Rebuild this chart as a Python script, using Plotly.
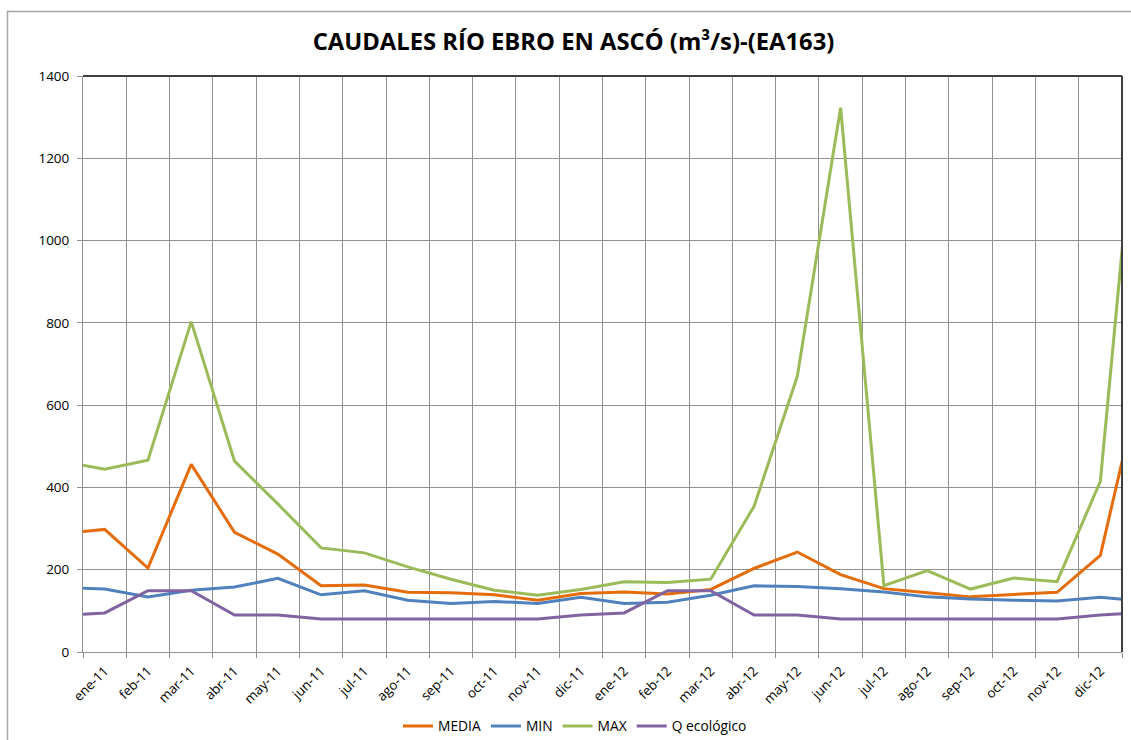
import plotly.graph_objects as go

months = ["dic-10",
          "ene-11", "feb-11", "mar-11", "abr-11", "may-11", "jun-11",
          "jul-11", "ago-11", "sep-11", "oct-11", "nov-11", "dic-11",
          "ene-12", "feb-12", "mar-12", "abr-12", "may-12", "jun-12",
          "jul-12", "ago-12", "sep-12", "oct-12", "nov-12", "dic-12",
          "ene-13"]

media = [288,
         298, 204, 456, 291, 238, 161, 163, 145, 144, 139, 126, 142,
         146, 141, 152, 203, 243, 188, 154, 144, 134, 140, 145, 235,
         689]
minimo = [157,
          153, 134, 150, 158, 179, 139, 149, 126, 118, 123, 118, 133,
          118, 121, 138, 161, 159, 154, 146, 134, 129, 126, 124, 133,
          123]
maximo = [464,
          444, 466, 803, 464, 360, 253, 241, 207, 177, 150, 138, 152,
          171, 169, 177, 354, 670, 1323, 161, 198, 153, 180, 171, 415,
          1535]
q_eco = [89,
         95, 149, 149, 90, 90, 80, 80, 80, 80, 80, 80, 90,
         95, 149, 149, 90, 90, 80, 80, 80, 80, 80, 80, 90,
         96]

series = [("MEDIA", media, "#E46C0A"),
          ("MIN", minimo, "#4F81BD"),
          ("MAX", maximo, "#9BBB59"),
          ("Q ecológico", q_eco, "#8064A2")]

fig = go.Figure()
for name, vals, col in series:
    fig.add_trace(go.Scatter(x=months, y=vals, name=name, mode="lines",
                             line=dict(color=col, width=3), cliponaxis=True))

W, H = 1131, 740
L, R, T, B = 83, 1122, 75.5, 652
pw, ph = R - L, B - T

fig.update_layout(
    width=W, height=H,
    margin=dict(l=L, r=W - R, t=T, b=H - B, pad=0, autoexpand=False),
    paper_bgcolor="white", plot_bgcolor="white",
    font=dict(family="Open Sans, sans-serif", size=13, color="#000000"),
    title=dict(text="<b>CAUDALES RÍO EBRO EN ASCÓ (m³/s)-(EA163)</b>",
               x=573.5 / W, xref="container", xanchor="center",
               y=1 - 42 / H, yref="container", yanchor="middle",
               font=dict(family="Open Sans, sans-serif", size=23.8, color="#000000")),
    showlegend=True,
    legend=dict(orientation="h", x=575 / W, xref="container", xanchor="center",
                y=1 - 726 / H, yref="container", yanchor="middle",
                font=dict(family="Open Sans, sans-serif", size=13.8),
                itemwidth=30, traceorder="normal"),
    xaxis=dict(type="category", range=[0.5, 24.5], tickson="boundaries",
               showgrid=True, gridcolor="#909090", gridwidth=1,
               ticks="outside", ticklen=5, tickcolor="#909090",
               tickangle=-45, showline=True, linecolor="#909090",
               ticklabelstandoff=5,
               tickfont=dict(family="Open Sans, sans-serif", size=13.3),
               zeroline=False, automargin=False),
    yaxis=dict(range=[0, 1400], dtick=200, showgrid=True, gridcolor="#909090",
               ticks="outside", ticklen=5, tickcolor="#909090",
               showline=True, linecolor="#909090", zeroline=False,
               automargin=False, ticklabelstandoff=5,
               tickfont=dict(family="Open Sans, sans-serif", size=13.5)),
    shapes=[
        dict(type="line", xref="paper", yref="paper", x0=0, x1=1, y0=1, y1=1,
             line=dict(color="#404040", width=2)),
        dict(type="line", xref="paper", yref="paper", x0=1, x1=1, y0=0, y1=1,
             line=dict(color="#404040", width=2)),
        dict(type="rect", xref="paper", yref="paper",
             x0=(7.5 - L) / pw, x1=(W + 5 - L) / pw,
             y0=(B - (H + 5)) / ph, y1=(B - 11) / ph,
             line=dict(color="#a6a6a6", width=1.5), fillcolor="rgba(0,0,0,0)",
             layer="below"),
    ],
)

fig.write_html("out.html", config={"displayModeBar": False},
               post_script="document.body.style.margin='0px';"
                           "document.body.style.overflow='hidden';")
